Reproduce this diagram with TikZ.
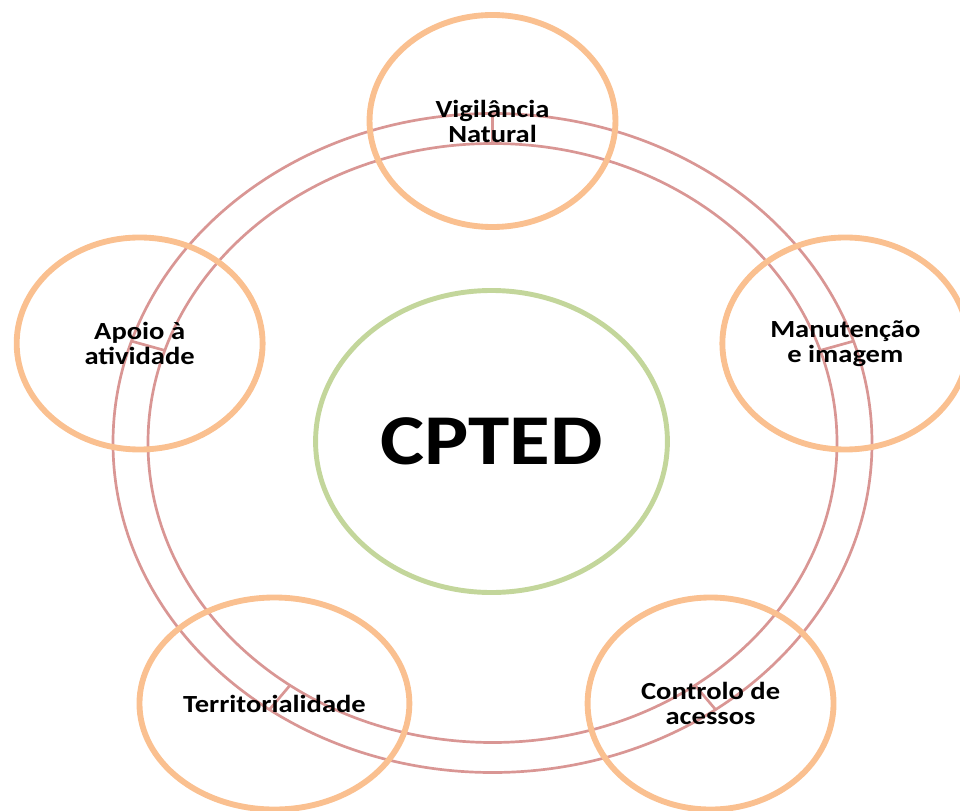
\documentclass[tikz,border=0pt]{standalone}
\usepackage{fontspec}
\setmainfont{Carlito}
\usetikzlibrary{shapes.geometric}

\begin{document}
\begin{tikzpicture}[x=0.03cm, y=0.03cm,
  anel/.style={draw=anelcor, line width=2.3pt},
  petala/.style={ellipse, draw=laranja, line width=5pt, xscale=1.16,
    minimum width=6.36cm, minimum height=6.36cm, inner sep=0pt,
    align=center, font=\bfseries\fontsize{21}{21.3}\selectfont},
  nucleo/.style={circle, draw=verde, line width=4.2pt, xscale=1.165,
    minimum size=9.06cm, inner sep=0pt,
    font=\bfseries\fontsize{61}{62}\selectfont}]
  % Couleurs (tons clairs)
  \definecolor{anelcor}{RGB}{217, 150, 148}  % rose
  \definecolor{laranja}{RGB}{250, 192, 144}  % laranja claro
  \definecolor{verde}{RGB}{195, 214, 155}    % verde claro

  % Cadre de la figure
  \clip (-492.5,-367) rectangle (467.5,443);

  % Double anneau
  \draw[anel] (0,0) ellipse [x radius=379.5, y radius=329.5];
  \draw[anel] (0,0) ellipse [x radius=344.5, y radius=299.5];

  % Points sur les anneaux
  \coordinate (o1) at (90:379.5 and 329.5);
  \coordinate (i1) at (90:344.5 and 299.5);
  \coordinate (o2) at (162:379.5 and 329.5);
  \coordinate (i2) at (162:344.5 and 299.5);
  \coordinate (o3) at (18:379.5 and 329.5);
  \coordinate (i3) at (18:344.5 and 299.5);
  \coordinate (o4) at (234:379.5 and 329.5);
  \coordinate (i4) at (234:344.5 and 299.5);
  \coordinate (o5) at (306:379.5 and 329.5);
  \coordinate (i5) at (306:344.5 and 299.5);

  % Traits entre les anneaux
  \draw[anel] (o1) -- (i1);
  \draw[anel] (o2) -- (i2);
  \draw[anel] (o3) -- (i3);
  \draw[anel] (o4) -- (i4);
  \draw[anel] (o5) -- (i5);

  % Les cinq principes
  \node[petala] (vigilancia) at (90:371 and 322) {Vigilância\\Natural};
  \node[petala] (apoio) at (162:371 and 322) {Apoio à\\atividade};
  \node[petala] (manutencao) at (18:371 and 322) {Manutenção\\e imagem};
  \node[petala, minimum width=6.98cm] (territorio) at (234:371 and 322) {Territorialidade};
  \node[petala] (controlo) at (306:371 and 322) {Controlo de\\acessos};

  % Centre
  \node[nucleo] (cpted) at (-1,1.5) {CPTED};
\end{tikzpicture}
\end{document}
